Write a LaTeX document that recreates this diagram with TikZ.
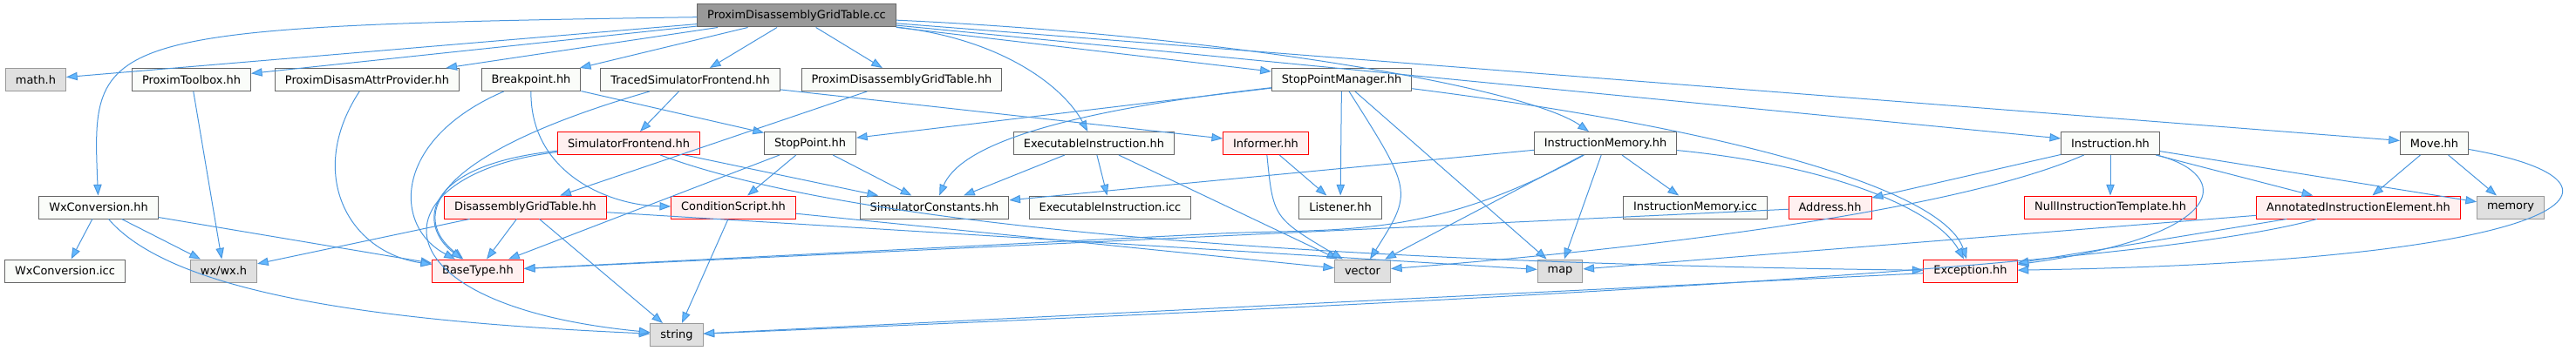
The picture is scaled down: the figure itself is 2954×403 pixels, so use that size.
\documentclass[tikz,border=0pt]{standalone}
\usepackage{fontspec}
\setmainfont{DejaVu Sans}
\usetikzlibrary{arrows.meta}
\definecolor{edgeblue}{HTML}{4A96DE}
\definecolor{tipblue}{HTML}{63B8FF}
\definecolor{rootgray}{HTML}{999999}
\definecolor{hdrline}{HTML}{666666}
\definecolor{hdrfill}{HTML}{FAFCF9}
\definecolor{sysfill}{HTML}{E0E0E0}
\definecolor{sysline}{HTML}{999999}
\definecolor{redfill}{HTML}{FFF0F0}
\tikzset{
  hdr/.style={draw=hdrline, fill=hdrfill, line width=0.75pt, minimum height=19.5pt,
    inner xsep=8.6pt, inner ysep=0pt, font=\fontsize{9.7}{11}\selectfont},
  hdrroot/.style={hdr, fill=rootgray},
  hdrsys/.style={hdr, fill=sysfill, draw=sysline},
  hdrred/.style={hdr, fill=redfill, draw=red},
  dep/.style={draw=edgeblue, line width=0.75pt,
    -{Triangle[length=9.5pt,width=7pt,fill=tipblue]}}
}
\begin{document}
\begin{tikzpicture}[x=0.75pt, y=-0.75pt]
\useasboundingbox (0,0) rectangle (2954,403);

\node[hdrroot] (root) at (913.5,18) {ProximDisassemblyGridTable.cc};

\node[hdrsys] (mathh) at (41,91.5) {math.h};
\node[hdr] (toolbox) at (219.5,91.5) {ProximToolbox.hh};
\node[hdr] (attrprov) at (421,91.5) {ProximDisasmAttrProvider.hh};
\node[hdr] (breakpoint) at (609,91.5) {Breakpoint.hh};
\node[hdr] (traced) at (791.5,91.5) {TracedSimulatorFrontend.hh};
\node[hdr] (gridhh) at (1034,91.5) {ProximDisassemblyGridTable.hh};
\node[hdr] (spmanager) at (1538.5,91.5) {StopPointManager.hh};

\node[hdrred] (simfront) at (721,164.5) {SimulatorFrontend.hh};
\node[hdr] (stoppoint) at (929,164.5) {StopPoint.hh};
\node[hdr] (execinstr) at (1254.5,164.5) {ExecutableInstruction.hh};
\node[hdrred] (informer) at (1451.5,164.5) {Informer.hh};
\node[hdr] (instrmem) at (1841,164.5) {InstructionMemory.hh};
\node[hdr] (instr) at (2420,164.5) {Instruction.hh};
\node[hdr] (move) at (2791.5,164.5) {Move.hh};

\node[hdr] (wxconv) at (113,238) {WxConversion.hh};
\node[hdrred] (dgtable) at (602.5,238) {DisassemblyGridTable.hh};
\node[hdrred] (condscript) at (841,238) {ConditionScript.hh};
\node[hdr] (simconst) at (1071.5,238) {SimulatorConstants.hh};
\node[hdr] (execicc) at (1273,238) {ExecutableInstruction.icc};
\node[hdr] (listener) at (1537,238) {Listener.hh};
\node[hdr] (memicc) at (1944,238) {InstructionMemory.icc};
\node[hdrred] (address) at (2098.5,238) {Address.hh};
\node[hdrred] (nulltempl) at (2420,238) {NullInstructionTemplate.hh};
\node[hdrred] (annotated) at (2704.5,238) {AnnotatedInstructionElement.hh};
\node[hdrsys] (memory) at (2879,238) {memory};

\node[hdr] (wxicc) at (74.5,311) {WxConversion.icc};
\node[hdrsys] (wxh) at (256.5,311) {wx/wx.h};
\node[hdrred] (basetype) at (548,311) {BaseType.hh};
\node[hdrsys] (vector) at (1562.5,311) {vector};
\node[hdrsys] (map) at (1789,311) {map};
\node[hdrred] (exception) at (2259.5,311) {Exception.hh};

\node[hdrsys] (string) at (776,384.5) {string};

% root includes
\draw[dep] (root) -- (mathh);
\draw[dep] (root) .. controls (100,30) and (105,40) .. (wxconv);
\draw[dep] (root) -- (toolbox);
\draw[dep] (root) -- (attrprov);
\draw[dep] (root) -- (breakpoint);
\draw[dep] (root) -- (traced);
\draw[dep] (root) -- (gridhh);
\draw[dep] (root) .. controls (1150,45) and (1220,100) .. (execinstr);
\draw[dep] (root) -- (spmanager);
\draw[dep] (root) .. controls (1400,40) and (1750,100) .. (instrmem);
\draw[dep] (root) -- (instr);
\draw[dep] (root) -- (move);

\draw[dep] (wxconv) -- (wxicc);
\draw[dep] (wxconv) -- (wxh);
\draw[dep] (wxconv) -- (basetype);
\draw[dep] (wxconv) .. controls (200,340) and (450,370) .. (string);
\draw[dep] (toolbox) -- (wxh);
\draw[dep] (attrprov) .. controls (350,200) and (400,290) .. (basetype);

\draw[dep] (breakpoint) -- (stoppoint);
\draw[dep] (breakpoint) .. controls (608,200) and (700,236) .. (condscript);
\draw[dep] (breakpoint) .. controls (450,160) and (450,260) .. (basetype);
\draw[dep] (traced) -- (simfront);
\draw[dep] (traced) -- (informer);
\draw[dep] (traced) .. controls (520,170) and (460,240) .. (basetype);
\draw[dep] (gridhh) -- (dgtable);

\draw[dep] (spmanager) -- (stoppoint);
\draw[dep] (spmanager) .. controls (1200,130) and (1100,170) .. (simconst);
\draw[dep] (spmanager) -- (listener);
\draw[dep] (spmanager) .. controls (1620,220) .. (vector);
\draw[dep] (spmanager) -- (map);
\draw[dep] (spmanager) .. controls (2000,150) and (2230,220) .. (exception);

\draw[dep] (simfront) .. controls (480,190) and (480,260) .. (basetype);
\draw[dep] (simfront) -- (simconst);
\draw[dep] (simfront) .. controls (430,200) and (420,350) .. (string);
\draw[dep] (simfront) .. controls (950,250) and (1400,300) .. (exception);
\draw[dep] (stoppoint) -- (condscript);
\draw[dep] (stoppoint) -- (simconst);
\draw[dep] (stoppoint) -- (basetype);
\draw[dep] (execinstr) -- (simconst);
\draw[dep] (execinstr) -- (execicc);
\draw[dep] (execinstr) -- (vector);
\draw[dep] (informer) -- (listener);
\draw[dep] (informer) .. controls (1460,250) .. (vector);
\draw[dep] (instrmem) -- (simconst);
\draw[dep] (instrmem) .. controls (1640,275) and (1540,262) .. (1400,268) -- (basetype);
\draw[dep] (instrmem) -- (vector);
\draw[dep] (instrmem) -- (map);
\draw[dep] (instrmem) -- (memicc);
\draw[dep] (instrmem) .. controls (2100,190) and (2220,240) .. (exception);
\draw[dep] (instr) -- (address);
\draw[dep] (instr) -- (nulltempl);
\draw[dep] (instr) -- (annotated);
\draw[dep] (instr) -- (memory);
\draw[dep] (instr) .. controls (2560,200) and (2560,270) .. (exception);
\draw[dep] (instr) .. controls (2250,240) and (1900,285) .. (vector);
\draw[dep] (move) -- (annotated);
\draw[dep] (move) -- (memory);
\draw[dep] (move) .. controls (3050,210) and (2960,300) .. (exception);

\draw[dep] (dgtable) -- (wxh);
\draw[dep] (dgtable) -- (basetype);
\draw[dep] (dgtable) -- (string);
\draw[dep] (dgtable) -- (map);
\draw[dep] (condscript) -- (string);
\draw[dep] (condscript) -- (vector);
\draw[dep] (address) -- (basetype);
\draw[dep] (annotated) -- (map);
\draw[dep] (annotated) -- (exception);
\draw[dep] (annotated) .. controls (2450,310) and (1600,350) .. (string);
\draw[dep] (exception) -- (string);
\end{tikzpicture}
\end{document}
